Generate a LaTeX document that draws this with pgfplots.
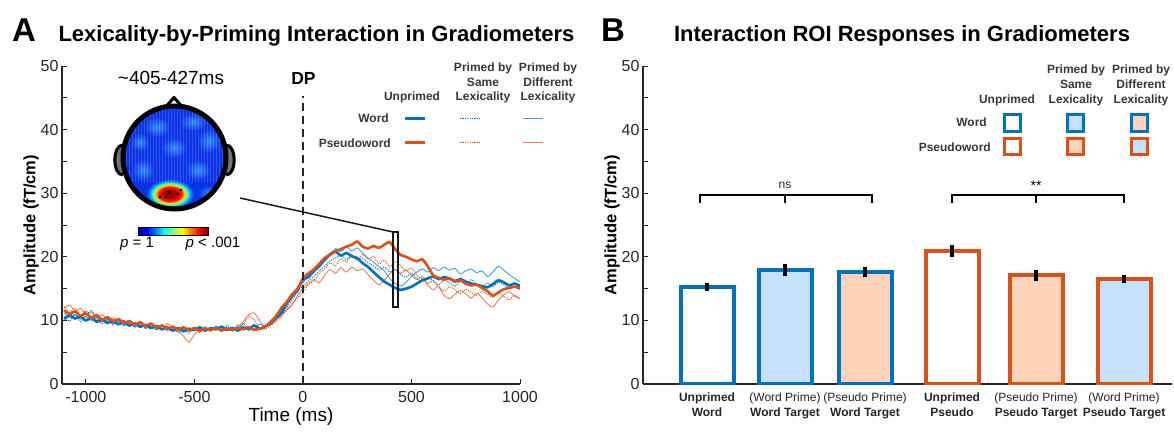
\documentclass[border=0pt]{standalone}
\usepackage{fontspec}
\setmainfont{Liberation Sans}
\usepackage{pgfplots}
\pgfplotsset{compat=1.18}
\usepackage{pgfplotstable}

\definecolor{mblue}{RGB}{0,114,189}
\definecolor{mblue2}{RGB}{70,155,222}
\definecolor{morange}{RGB}{217,83,25}
\definecolor{morange2}{RGB}{234,128,90}
\definecolor{lblue}{RGB}{197,225,252}
\definecolor{lpeach}{RGB}{253,212,185}
\definecolor{axgray}{RGB}{38,38,38}
\definecolor{leggray}{RGB}{55,55,55}
\definecolor{topobg}{RGB}{10,50,230}
\definecolor{topolt}{RGB}{45,140,255}

\pgfdeclarehorizontalshading{jetbar}{100bp}{rgb(0bp)=(0,0,0.56); rgb(25bp)=(0,0,0.56); rgb(31.25bp)=(0,0,1); rgb(37.5bp)=(0,0.5,1); rgb(43.75bp)=(0,1,1); rgb(50bp)=(0.5,1,0.5); rgb(56.25bp)=(1,1,0); rgb(62.5bp)=(1,0.5,0); rgb(68.75bp)=(1,0,0); rgb(75bp)=(0.5,0,0); rgb(100bp)=(0.5,0,0)}
\pgfdeclareradialshading{hotspot}{\pgfpoint{0bp}{0bp}}{rgb(0bp)=(0.5,0,0); rgb(7bp)=(0.72,0,0); rgb(12bp)=(1,0.1,0); rgb(15bp)=(1,0.8,0); rgb(18bp)=(0.3,1,0.7); rgb(21bp)=(0,0.6,1); rgb(25bp)=(0.039,0.196,0.902); rgb(50bp)=(0.039,0.196,0.902)}

% time courses (ms, fT/cm)
\pgfplotstableread{
t w1 w2 w3 p1 p2 p3
-1100 10.2 10.6 11.2 11.6 12.2 11.9
-1075 10.8 9.9 10.5 11.0 11.3 12.4
-1050 10.3 10.9 10.9 11.4 11.9 11.5
-1025 10.6 9.8 10.2 10.7 10.8 11.9
-1000 10.0 10.7 10.6 11.1 11.5 11.0
-975 10.4 11.6 10.0 10.4 10.5 11.3
-950 9.8 10.3 10.4 10.8 10.9 10.5
-925 10.1 9.5 9.8 10.1 9.9 10.9
-900 9.6 10.2 10.1 10.5 10.6 10.1
-875 9.9 9.3 9.5 9.9 9.6 10.4
-850 9.4 10.0 9.9 10.2 10.3 9.8
-825 9.8 9.1 9.3 9.6 9.3 10.0
-800 9.2 9.8 9.7 9.9 9.9 9.4
-775 9.5 8.9 9.1 9.3 9.0 9.7
-750 9.0 9.5 9.5 9.7 9.6 9.1
-725 9.3 8.7 8.9 9.1 8.8 9.4
-700 8.8 9.3 9.3 9.5 9.4 8.9
-675 9.1 8.5 8.7 8.9 8.6 9.2
-650 8.6 9.2 9.1 9.2 9.3 8.6
-625 8.9 8.3 8.6 8.7 8.5 9.5
-600 8.4 8.9 9.0 9.0 9.1 8.8
-575 8.8 8.1 8.5 8.6 8.3 8.4
-550 8.3 8.6 8.9 8.9 8.9 7.5
-525 8.7 8.0 8.4 8.5 8.2 6.6
-500 8.5 8.8 8.8 8.8 8.7 7.8
-475 8.9 8.2 8.3 8.4 8.1 8.6
-450 8.4 9.0 8.7 8.7 8.6 8.9
-425 8.8 8.3 8.5 8.5 8.3 8.4
-400 8.6 8.9 9.1 8.8 9.0 8.8
-375 9.0 8.5 8.6 8.4 8.4 8.5
-350 8.5 9.2 8.9 8.7 8.8 8.9
-325 8.8 8.6 8.4 8.5 8.3 8.6
-300 8.4 8.4 9.3 8.8 8.9 9.0
-275 8.9 9.5 8.7 8.6 9.4 9.8
-250 8.6 8.7 9.0 8.9 10.6 10.9
-225 9.2 9.1 8.6 8.5 10.1 11.2
-200 8.7 8.5 9.4 8.7 8.9 10.0
-175 9.0 8.9 9.1 9.0 8.6 9.0
-150 9.6 9.3 9.9 9.7 9.1 9.3
-125 10.4 10.2 10.8 10.6 9.8 10.0
-100 11.2 10.8 11.8 11.9 10.5 10.9
-75 12.6 12.0 13.0 12.9 11.7 11.6
-50 13.8 13.2 14.2 14.1 12.6 12.4
-25 14.8 14.4 15.1 15.0 13.6 13.9
0 16.4 15.4 15.9 16.6 14.4 15.0
25 16.8 16.2 17.0 17.4 15.6 15.8
50 17.8 16.9 17.5 18.0 16.2 16.4
75 18.5 17.8 18.6 18.9 17.4 15.9
100 19.6 18.5 19.3 19.8 18.1 17.1
125 20.4 19.4 20.2 20.3 19.0 18.0
150 20.8 19.8 21.3 20.9 18.6 17.4
175 20.2 20.3 20.8 21.2 19.7 18.3
200 20.6 19.6 21.6 21.6 19.2 17.6
225 20.1 20.1 20.9 21.9 20.3 18.4
250 19.8 19.5 21.4 22.4 19.5 17.8
275 19.0 19.8 20.6 21.6 20.4 18.1
300 18.4 19.0 19.8 21.3 19.6 17.2
325 17.6 18.6 19.2 21.7 20.1 16.3
350 16.8 17.9 18.4 21.4 18.8 15.6
375 16.1 18.4 17.8 21.9 19.5 16.4
400 15.6 17.6 16.6 22.3 18.4 17.3
425 15.1 18.0 15.8 21.2 19.2 18.0
450 14.8 17.2 15.4 20.3 18.6 17.4
475 15.0 16.8 16.0 20.0 17.8 17.9
500 15.3 17.4 16.9 19.6 18.3 17.1
525 15.8 16.6 17.6 19.3 17.1 16.4
550 16.3 16.1 18.1 19.6 16.5 16.9
575 16.6 16.8 17.6 18.5 15.8 15.6
600 16.9 16.2 18.3 17.1 16.3 14.8
625 16.5 15.6 17.8 16.7 15.2 15.4
650 16.8 16.3 18.4 16.4 14.6 13.9
675 16.6 15.9 17.9 16.6 15.3 13.4
700 16.2 15.4 18.2 16.1 14.8 14.1
725 16.5 16.1 17.3 16.3 14.2 14.7
750 16.1 15.7 17.8 15.8 14.9 14.2
775 15.8 16.4 18.1 15.5 14.4 13.5
800 15.6 15.8 17.5 15.6 13.9 14.3
825 15.4 15.2 17.8 15.1 14.6 13.6
850 15.2 15.9 16.9 14.6 14.1 12.6
875 15.7 15.3 17.6 13.9 13.6 12.1
900 16.3 16.0 18.5 14.4 14.3 13.2
925 16.0 15.6 17.9 14.9 13.8 14.0
950 15.5 15.1 17.2 15.1 13.2 14.5
975 15.8 15.8 16.6 15.3 14.0 13.8
1000 15.4 15.2 16.1 15.0 13.4 13.4
}\timecourse

\pgfplotsset{
  matlabax/.style={
    scale only axis, height=318pt, ymin=0, ymax=50,
    axis x line*=bottom, axis y line*=left,
    axis line style={axgray, line width=1.6pt, -},
    ytick={0,10,...,50}, minor ytick={5,15,...,45},
    tick style={axgray, line width=0.8pt},
    major tick length=5pt, minor tick length=5pt, tick align=inside,
    ticklabel style={font=\fontsize{16}{16}\selectfont, text=axgray},
    xticklabel style={yshift=-4pt},
    /pgf/number format/assume math mode=true,
    /pgf/number format/1000 sep={},
    ylabel={Amplitude (fT/cm)},
    ylabel style={font=\bfseries\fontsize{16.5}{16.5}\selectfont, text=black, yshift=-5pt},
  },
  thin/.style={line width=0.9pt, smooth, tension=0.4},
  thick/.style={line width=2.6pt, smooth, tension=0.4},
  dots/.style={line width=0.9pt, smooth, tension=0.4, dash pattern=on 1.2pt off 1.2pt},
}

\begin{document}
\begin{tikzpicture}
\useasboundingbox (0,0) rectangle (1174pt,-433pt);

% ---- topomap inset (drawn first, behind panel A)
\begin{scope}[x=1pt,y=-1pt]
  \draw[black, line width=3pt, fill=black!55] (123,145) .. controls (112,145) and (112,175) .. (123,175);
  \draw[black, line width=3pt, fill=black!55] (226,145) .. controls (237,145) and (237,175) .. (226,175);
  \draw[black, line width=3pt, fill=white, line join=round] (163,110) -- (174,97.5) -- (185,110);
  \begin{scope}
    \clip (174.5,157.5) circle (50);
    \fill[topobg] (174.5,157.5) circle (50);
    \shade[inner color=topolt, outer color=topobg] (157,127) ellipse (13 and 10);
    \shade[inner color=topolt, outer color=topobg] (193,122) ellipse (14 and 9);
    \shade[inner color=topolt, outer color=topobg] (209,141) ellipse (12 and 12);
    \shade[inner color=topolt, outer color=topobg] (174,148) ellipse (13 and 10);
    \shade[inner color=topolt, outer color=topobg] (143,170) ellipse (11 and 11);
    \shade[inner color=topolt, outer color=topobg] (198,170) ellipse (13 and 10);
    \shade[inner color=topolt, outer color=topobg] (208,193) ellipse (10 and 8);
    \shade[inner color=topolt, outer color=topobg] (140,142) ellipse (9 and 9);
    \shade[shading=hotspot] (170,194) ellipse (24 and 15);
    \foreach \x in {126,129,...,222} \draw[white, opacity=0.16, line width=0.6pt] (\x,106) -- (\x,182);
  \end{scope}
  \draw[black, line width=5pt] (174.5,157.5) circle (51.5);
  % colour bar
  \shade[shading=jetbar] (138,227) rectangle (208,235);
  \draw[black, line width=0.6pt] (138,227) rectangle (208,235);
  \node[anchor=base, inner sep=0, font=\fontsize{15}{15}\selectfont] at (137,247) {\textit{p} = 1};
  \node[anchor=base, inner sep=0, font=\fontsize{15}{15}\selectfont] at (213,247) {\textit{p} < .001};
  \node[anchor=base, inner sep=0, font=\fontsize{19}{19}\selectfont] at (171,85) {\textasciitilde 405-427ms};
\end{scope}

% ---- panel A
\begin{axis}[matlabax, at={(62pt,-384pt)}, anchor=south west, width=458pt,
  xmin=-1110, xmax=1000, xtick={-1000,-500,0,500,1000},
  xlabel={Time (ms)}, xlabel style={font=\fontsize{19}{19}\selectfont, text=black, yshift=2pt}]
\addplot[morange2, thin] table[x=t, y=p3] {\timecourse};
\addplot[morange, dots] table[x=t, y=p2] {\timecourse};
\addplot[mblue2, thin] table[x=t, y=w3] {\timecourse};
\addplot[mblue, dots] table[x=t, y=w2] {\timecourse};
\addplot[mblue, thick] table[x=t, y=w1] {\timecourse};
\addplot[morange, thick] table[x=t, y=p1] {\timecourse};
% significant sensors in the topomap
\addplot[only marks, mark=*, mark size=1.2pt, black] coordinates {(-659,29.4) (-631,29.4) (-617,30.2) (-576,29.9) (-562,30.5)};
\end{axis}

% ---- panel B
\begin{axis}[matlabax, at={(643pt,-384pt)}, anchor=south west, width=529pt,
  xmin=643, xmax=1172,
  xtick={707,785,865,952,1036,1124},
  xticklabels={{\textbf{Unprimed}\\\textbf{Word}},{(Word Prime)\\\textbf{Word Target}},{(Pseudo Prime)\\\textbf{Word Target}},{\textbf{Unprimed}\\\textbf{Pseudo}},{(Pseudo Prime)\\\textbf{Pseudo Target}},{(Word Prime)\\\textbf{Pseudo Target}}},
  x tick style={draw=none},
  xticklabel style={align=center, font=\fontsize{12}{15}\selectfont, text=axgray, yshift=-1pt},
  error bars/error bar style={black, line width=3.3pt},
  error bars/error mark=none]
\addplot[ybar, bar width=53, bar shift=0pt, draw=mblue, fill=white, line width=4pt, error bars/.cd, y dir=both, y explicit] coordinates {(707,15.3) +- (0,0.6)};
\addplot[ybar, bar width=53, bar shift=0pt, draw=mblue, fill=lblue, line width=4pt, error bars/.cd, y dir=both, y explicit] coordinates {(785,17.9) +- (0,0.9)};
\addplot[ybar, bar width=53, bar shift=0pt, draw=mblue, fill=lpeach, line width=4pt, error bars/.cd, y dir=both, y explicit] coordinates {(865,17.65) +- (0,0.75)};
\addplot[ybar, bar width=53, bar shift=0pt, draw=morange, fill=white, line width=4pt, error bars/.cd, y dir=both, y explicit] coordinates {(952,20.9) +- (0,0.9)};
\addplot[ybar, bar width=53, bar shift=0pt, draw=morange, fill=lpeach, line width=4pt, error bars/.cd, y dir=both, y explicit] coordinates {(1036,17.1) +- (0,0.9)};
\addplot[ybar, bar width=53, bar shift=0pt, draw=morange, fill=lblue, line width=4pt, error bars/.cd, y dir=both, y explicit] coordinates {(1124,16.55) +- (0,0.65)};
\end{axis}

% ---- annotations, titles and legends (page coordinates)
\begin{scope}[x=1pt,y=-1pt]
  % panel letters and titles
  \node[anchor=base, inner sep=0, font=\bfseries\fontsize{33}{33}\selectfont] at (24,41.5) {A};
  \node[anchor=base, inner sep=0, font=\bfseries\fontsize{22}{22}\selectfont] at (316.5,42) {Lexicality-by-Priming Interaction in Gradiometers};
  \node[anchor=base, inner sep=0, font=\bfseries\fontsize{33}{33}\selectfont] at (613,41.5) {B};
  \node[anchor=base, inner sep=0, font=\bfseries\fontsize{22}{22}\selectfont] at (902,42) {Interaction ROI Responses in Gradiometers};
  % DP marker
  \draw[black!85, line width=1.8pt, dash pattern=on 8pt off 5pt] (303,384) -- (303,96);
  \node[anchor=base, inner sep=0, font=\bfseries\fontsize{17.5}{17.5}\selectfont] at (303.5,85) {DP};
  % ROI window and leader line
  \draw[black!90, line width=1.5pt] (240,198) -- (393,232);
  \draw[black!90, line width=1.5pt] (393,232) rectangle (398,307);
  % legend A
  \begin{scope}[font=\bfseries\fontsize{12}{12}\selectfont, text=leggray]
    \node[anchor=base, inner sep=0] at (412,101) {Unprimed};
    \node[anchor=base, inner sep=0] at (483,72) {Primed by};
    \node[anchor=base, inner sep=0] at (483,86.5) {Same};
    \node[anchor=base, inner sep=0] at (483,101) {Lexicality};
    \node[anchor=base, inner sep=0] at (548,72) {Primed by};
    \node[anchor=base, inner sep=0] at (548,86.5) {Different};
    \node[anchor=base, inner sep=0] at (548,101) {Lexicality};
    \node[anchor=base east, inner sep=0] at (389,123) {Word};
    \node[anchor=base east, inner sep=0] at (391,147) {Pseudoword};
  \end{scope}
  \draw[mblue, line width=2.6pt] (405,118.5) -- (425,118.5);
  \draw[mblue, line width=0.9pt, dash pattern=on 1.2pt off 1.2pt] (460,118.5) -- (480,118.5);
  \draw[mblue2, line width=0.9pt] (523,118.5) -- (543,118.5);
  \draw[morange, line width=2.6pt] (405,142.5) -- (425,142.5);
  \draw[morange, line width=0.9pt, dash pattern=on 1.2pt off 1.2pt] (460,142.5) -- (480,142.5);
  \draw[morange2, line width=0.9pt] (523,142.5) -- (543,142.5);
  % legend B
  \begin{scope}[font=\bfseries\fontsize{12}{12}\selectfont, text=leggray]
    \node[anchor=base, inner sep=0] at (1007,103) {Unprimed};
    \node[anchor=base, inner sep=0] at (1076,74) {Primed by};
    \node[anchor=base, inner sep=0] at (1076,88.5) {Same};
    \node[anchor=base, inner sep=0] at (1076,103) {Lexicality};
    \node[anchor=base, inner sep=0] at (1141,74) {Primed by};
    \node[anchor=base, inner sep=0] at (1141,88.5) {Different};
    \node[anchor=base, inner sep=0] at (1141,103) {Lexicality};
    \node[anchor=base east, inner sep=0] at (987,127) {Word};
    \node[anchor=base east, inner sep=0] at (991,151) {Pseudoword};
  \end{scope}
  \draw[mblue, line width=3pt, fill=white] (1004.5,115) rectangle (1020.5,131);
  \draw[mblue, line width=3pt, fill=lblue] (1067.5,115) rectangle (1083.5,131);
  \draw[mblue, line width=3pt, fill=lpeach] (1131.5,115) rectangle (1147.5,131);
  \draw[morange, line width=3pt, fill=white] (1004.5,138) rectangle (1020.5,154);
  \draw[morange, line width=3pt, fill=lpeach] (1067.5,138) rectangle (1083.5,154);
  \draw[morange, line width=3pt, fill=lblue] (1131.5,138) rectangle (1147.5,154);
  % significance brackets
  \draw[black, line width=1.6pt] (700,203) -- (700,195) -- (872,195) -- (872,203);
  \draw[black, line width=1.6pt] (785,195) -- (785,203);
  \draw[black, line width=1.6pt] (952,203) -- (952,195) -- (1124,195) -- (1124,203);
  \draw[black, line width=1.6pt] (1036,195) -- (1036,203);
  \node[anchor=base, inner sep=0, font=\fontsize{12}{12}\selectfont, text=axgray] at (785,188) {ns};
  \node[anchor=center, inner sep=0, font=\fontsize{14}{14}\selectfont] at (1036,186) {**};
\end{scope}
\end{tikzpicture}
\end{document}
